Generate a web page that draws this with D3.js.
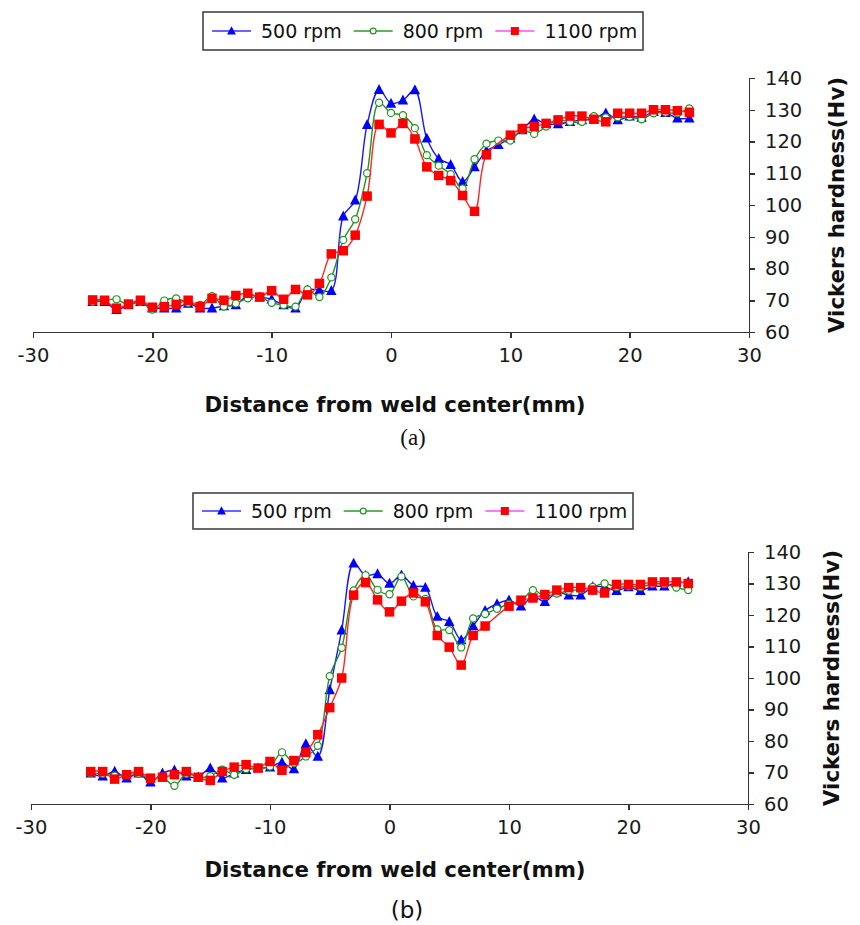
<!DOCTYPE html>
<html>
<head>
<meta charset="utf-8">
<title>Vickers hardness profiles</title>
<script src="https://d3js.org/d3.v7.min.js"></script>
<style>
  body { margin: 0; background: #fff; }
  svg { display: block; }
  .tick text { font-family: "DejaVu Sans", sans-serif; font-size: 19.5px; fill: #1a1a1a; }
  .axis path, .axis line { stroke: #333; stroke-width: 1.5; shape-rendering: crispEdges; }
  .title { font-family: "DejaVu Sans", sans-serif; font-weight: bold; font-size: 21.3px; fill: #111; }
  .legtext { font-family: "DejaVu Sans", sans-serif; font-size: 19px; fill: #111; }
</style>
</head>
<body>
<script>
// distance from weld centre, mm
var dist = d3.range(-25, 26);

// (a) hardness, Hv
var a500 = [69.5,69.5,67,68.5,69.5,67.5,67.5,67.5,69,67.5,67.5,68.2,68.5,71.6,71,70.3,68.5,67.5,73.2,73.2,73,96.5,101.5,125.3,136.3,
            132,133,136.2,121,114.6,112.7,107.3,112,117,119,121,123.6,127,125.5,125.5,126.2,126.8,127,128.9,126.8,128,127.6,129.4,129.1,127.3,127.3];
var a800 = [69.5,70,70.3,68.5,69.5,67.1,69.9,70.6,69.2,68.5,71.3,68,69,70.6,71,69.2,68.5,68,73.4,71,77.2,89,95.5,110,132.2,
            129,128.3,124.2,115.7,112.4,109.7,105.2,114.4,119.3,120.3,120.3,123.6,122.4,124.7,126.8,126.2,126.2,128,127.6,127.6,127.8,127,128.9,129.1,128.9,130.4];
var a1100 = [70.1,70,67.5,68.8,70,67.8,68,68.7,70,68,70.6,70,71.5,72.2,71,73,70.3,73.4,71.7,75.3,84.6,85.6,90.5,102.8,125.4,
             122.7,125.7,120.8,112,109.3,107.7,103,98,115.8,null,122,124.1,124.7,125.7,126.8,128,128,127,126.2,128.9,128.9,128.9,130,130,129.7,129.2];

// (b) hardness, Hv
var b500 = [69.8,68.8,70.3,68.2,69.8,66.9,69.8,70.7,68.8,68.5,71.4,68.2,69.8,70.9,71.4,71.7,73.2,71.1,79.1,75.1,96.2,115.2,136.4,132.5,133,
            130,132.6,129.3,128.7,119.5,117.9,112.1,116.5,121.4,123.5,124.7,122.8,126,124.2,127.3,126.3,126.3,128.9,128.9,127.7,128.9,127.7,129.1,129.1,130.2,130.5];
var b800 = [69.8,69.6,69,69.3,69.6,67.9,68.5,65.8,69.6,68.5,68.8,70.9,69.3,71.1,71.4,71.9,76.4,73,75.1,78.5,100.6,109.6,127.8,132.6,128,
            126.6,132.2,125.9,125.1,115.4,115.2,109.7,118.9,120.3,122,123.5,124.4,127.9,126,126.8,127.7,128.1,128.9,130,128.9,129.1,128.9,129.8,129.8,128.7,127.9];
var b1100 = [70.3,70.3,67.9,69.3,70.3,68.2,68.5,69.3,70.3,68.5,67.5,70.3,71.7,72.5,71.4,73.5,70.7,73.8,76.4,82,90.6,100,126.3,130.3,124.8,
             121,124.4,127,124.2,113.5,109.8,104.1,113.5,116.5,null,122.8,124.7,125.4,126.5,127.9,128.7,128.7,127.9,127,129.7,129.7,129.7,130.5,130.5,130.5,130];

var seriesNames = ["500 rpm", "800 rpm", "1100 rpm"];
var xTicks = [-30, -20, -10, 0, 10, 20, 30];
var yTicks = [60, 70, 80, 90, 100, 110, 120, 130, 140];

var lineCol = ["#1515ff", "#1f951f", "#ff2626"];
var legLineCol = ["#3535ff", "#2a9a2a", "#ff4dff"];

var svg = d3.select("body").append("svg")
  .attr("width", 860).attr("height", 925);

function symbol(g, k, cx, cy, s) {
  if (k == 0) {
    g.append("path").attr("transform", "translate(" + cx + "," + cy + ")")
      .attr("d", "M0," + (-s * 0.6) + "L" + (s * 0.55) + "," + (s * 0.45) + "L" + (-s * 0.55) + "," + (s * 0.45) + "Z")
      .attr("fill", "#0000ff");
  } else if (k == 1) {
    g.append("circle").attr("cx", cx).attr("cy", cy).attr("r", s * 0.42)
      .attr("fill", "#fff").attr("stroke", "#1f951f").attr("stroke-width", 1.2);
  } else {
    g.append("rect").attr("x", cx - s / 2).attr("y", cy - s / 2).attr("width", s).attr("height", s)
      .attr("fill", "#ff0000");
  }
}

function panel(p) {
  var x = d3.scaleLinear().domain([-30, 30]).range([p.x0, p.x1]);
  var y = d3.scaleLinear().domain([60, 140]).range([p.yb, p.yt]);

  svg.append("g").attr("class", "axis")
    .attr("transform", "translate(0," + p.yb + ")")
    .call(d3.axisBottom(x).tickValues(xTicks).tickSize(6).tickSizeOuter(0).tickPadding(10)
      .tickFormat(function (d) { return String(d); }));

  svg.append("g").attr("class", "axis")
    .attr("transform", "translate(" + p.x1 + ",0)")
    .call(d3.axisRight(y).tickValues(yTicks).tickSize(6).tickSizeOuter(0).tickPadding(10));

  var line = d3.line()
    .x(function (d) { return x(d[0]); })
    .y(function (d) { return y(d[1]); })
    .curve(d3.curveCatmullRom.alpha(0.5));

  var plot = svg.append("g");
  p.data.forEach(function (vals, k) {
    var pts = dist.map(function (d, i) { return [d, vals[i]]; })
      .filter(function (d) { return d[1] != null; });
    plot.append("path").datum(pts).attr("d", line)
      .attr("fill", "none").attr("stroke", lineCol[k]).attr("stroke-width", 1.4);
    var mg = plot.append("g");
    pts.forEach(function (d) { symbol(mg, k, x(d[0]), y(d[1]), k == 1 ? 8.5 : 9.5); });
  });

  // axis titles
  svg.append("text").attr("class", "title")
    .attr("x", 395).attr("y", p.xTitleY).attr("text-anchor", "middle")
    .text("Distance from weld center(mm)");
  svg.append("text").attr("class", "title")
    .attr("transform", "translate(" + p.yTitleX + "," + (p.yt + p.yb) / 2 + ") rotate(-90)")
    .attr("text-anchor", "middle")
    .text("Vickers hardness(Hv)");

  // caption
  svg.append("text").attr("x", p.capX).attr("y", p.capY).attr("text-anchor", "middle")
    .style("font-family", p.capFont).style("font-size", "23px").attr("fill", "#111")
    .text(p.cap);

  // legend
  var lg = svg.append("g").attr("transform", "translate(" + p.lx + "," + p.ly + ")");
  lg.append("rect").attr("x", 0).attr("y", 0).attr("width", 440).attr("height", p.lh)
    .attr("fill", "#fff").attr("stroke", "#444").attr("stroke-width", 1.6);
  var cx = 9, cy = p.lh / 2;
  seriesNames.forEach(function (nm, k) {
    lg.append("line").attr("x1", cx).attr("x2", cx + 39).attr("y1", cy).attr("y2", cy)
      .attr("stroke", legLineCol[k]).attr("stroke-width", 1.5);
    symbol(lg, k, cx + 19.5, cy, k == 1 ? 7 : 8);
    var t = lg.append("text").attr("class", "legtext")
      .attr("x", cx + 49).attr("y", cy).attr("dy", "0.35em").text(nm);
    cx = cx + 49 + t.node().getComputedTextLength() + 12;
  });
}

panel({ x0: 33, x1: 749, yt: 78, yb: 332, data: [a500, a800, a1100],
        xTitleY: 412, yTitleX: 844, cap: "(a)", capX: 413, capY: 445,
        capFont: "'Liberation Serif', 'DejaVu Serif', serif",
        lx: 203, ly: 12, lh: 38 });

panel({ x0: 31, x1: 748, yt: 552, yb: 804, data: [b500, b800, b1100],
        xTitleY: 877, yTitleX: 839, cap: "(b)", capX: 407, capY: 918,
        capFont: "'DejaVu Sans', sans-serif",
        lx: 193, ly: 493, lh: 36 });
</script>
</body>
</html>
